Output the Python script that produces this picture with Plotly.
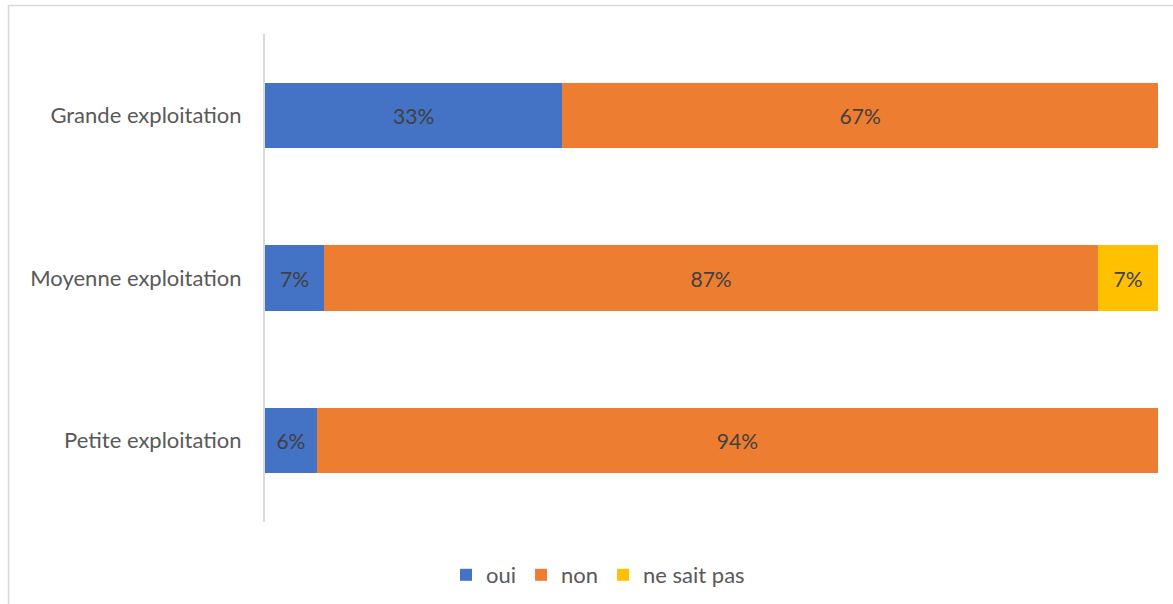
import plotly.graph_objects as go

categories = ["Grande exploitation", "Moyenne exploitation", "Petite exploitation"]
oui = [33.3, 6.6, 5.8]
non = [66.7, 86.7, 94.2]
nsp = [0, 6.7, 0]
series_names = ["oui", "non", "ne sait pas"]
colors = ["#4472C4", "#ED7D31", "#FFC000"]

L, R, T, B = 265, 15, 34, 82
W, H = 1173, 604
pw, ph = W - L - R, H - T - B
FONT = "Lato"

fig = go.Figure()
for name, vals, col in zip(series_names, [oui, non, nsp], colors):
    fig.add_trace(go.Bar(
        y=categories, x=vals, name=name, orientation="h",
        marker=dict(color=col, line=dict(width=0)),
        text=[f"{v:.0f}%" if v > 0 else "" for v in vals],
        textposition="inside", insidetextanchor="middle",
        textfont=dict(color="#404040", size=21, family=FONT),
        hoverinfo="skip",
    ))

fig.update_layout(
    barmode="stack", bargap=0.6,
    width=W, height=H,
    margin=dict(l=L, r=R, t=T, b=B, autoexpand=False),
    plot_bgcolor="white", paper_bgcolor="white",
    font=dict(family=FONT, color="#595959", size=22),
    uniformtext=dict(mode=False),
    xaxis=dict(range=[0, 100], visible=False, fixedrange=True),
    yaxis=dict(autorange="reversed", showline=True, linecolor="#d9d9d9", linewidth=2,
               ticks="", showgrid=False, ticklabelstandoff=17, fixedrange=True,
               tickfont=dict(size=22, color="#595959", family=FONT)),
    legend=dict(orientation="h", xref="container", yref="container",
                x=598 / W, xanchor="center", y=1 - 575 / H, yanchor="middle",
                font=dict(size=22, color="#595959", family=FONT),
                traceorder="normal", itemwidth=30),
    showlegend=True,
)

# chart border
fig.add_shape(type="rect", xref="paper", yref="paper",
              x0=(8.5 - L) / pw, x1=(1180 - L) / pw,
              y0=(T + ph - 620) / ph, y1=(T + ph - 5.5) / ph,
              line=dict(color="#d9d9d9", width=1.5), fillcolor="rgba(0,0,0,0)", layer="below")

fig.write_html("out.html", config={"displayModeBar": False},
               post_script="document.body.style.margin='0';")
